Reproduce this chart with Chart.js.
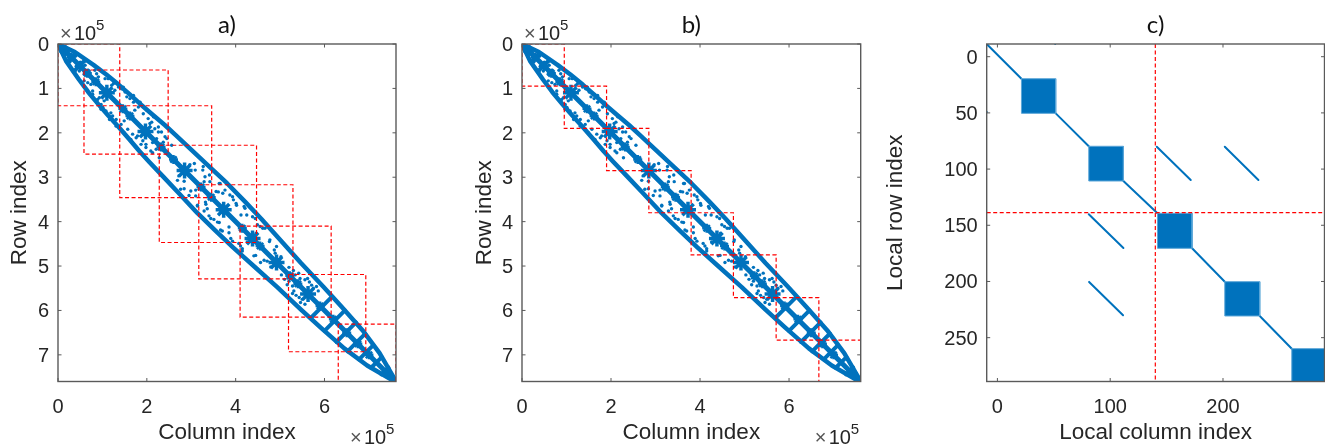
<!DOCTYPE html>
<html>
<head>
<meta charset="utf-8">
<style>
html,body{margin:0;padding:0;background:#fff;}
#wrap{position:relative;width:1325px;height:445px;overflow:hidden;}
canvas{position:absolute;left:0;top:0;}
</style>
<script src="https://cdn.jsdelivr.net/npm/chart.js@4"></script>
</head>
<body>
<div id="wrap">
<canvas id="pa" width="1325" height="445"></canvas>
<canvas id="pb" width="1325" height="445"></canvas>
<canvas id="pc" width="1325" height="445"></canvas>
</div>
<script>
// ---- Sparsity pattern shared by panels a) and b), units of 1e5 (upper half; the matrix is symmetric)
const bandCols=[0,.38,.805,1.08,1.37,1.61,1.85,2.145,2.41,2.65,3.01,3.34,3.805,4.21,4.58,5.015,5.47,5.975,6.385,6.855,7.24,7.60,7.61];
const bandRows=[0,.18,.475,.68,.92,1.13,1.35,1.605,1.83,2.05,2.39,2.70,3.135,3.55,3.94,4.425,4.93,5.465,5.915,6.445,6.96,7.58,7.61];
const centerVals=[0,7.61];
const bigClusters=[1.10,1.97,2.85,3.73,4.38,4.92,5.63];
const smallClusters=[.30,.50,.66,.85,1.46,1.62,2.32,2.60,3.22,3.45,4.15,4.55,5.22,5.40,5.90,6.2,6.5,6.75,7.0];
const dotCols=[.23,.40,.50,.61,.68,.87,1.06,1.21,1.28,1.43,1.51,1.55,1.70,1.81,1.73,1.92,2.03,2.11,2.26,2.33,2.18,2.45,2.37,2.56,2.97,3.09,3.27,3.31,3.42,3.65,3.61,3.76,3.87,3.95,4.02,4.21,4.25,4.44,4.55,4.66,4.77,4.92,4.89,5.34,5.45,5.56,5.71,5.75,
 .83,.91,1.13,1.25,1.36,1.47,1.62,1.70,1.85,2.0,2.15,2.07,2.26,2.41,2.22,3.07,3.26,3.41,3.29,3.63,3.56,3.71,3.93,4.01,4.19,4.12,4.38,4.49,4.61,4.46,4.76,4.87,5.02,5.2,5.3,5.62,5.66,5.82,5.86,5.42];
const dotRows=[.18,.27,.41,.48,.59,.67,.78,.93,1.04,1.01,1.08,1.19,1.31,1.42,1.49,1.57,1.68,1.76,1.87,1.98,1.91,2.13,2.21,2.28,2.72,2.84,2.76,2.99,3.10,3.14,3.33,3.29,3.40,3.51,3.63,3.70,3.85,3.93,4.11,4.15,4.41,4.56,4.71,5.20,5.28,5.31,5.43,5.50,
 .59,.74,.78,.89,.97,.97,1.23,1.16,1.31,1.49,1.64,1.79,1.98,2.09,2.13,2.69,2.84,2.95,3.10,3.14,3.32,3.36,3.44,3.59,3.66,3.85,3.89,4.07,4.15,4.26,4.45,4.64,4.79,5.03,5.1,5.28,5.36,5.46,5.56,5.16];
const linkFromVals=[.12,.30,.48,5.93,6.23,6.49,6.72,6.94,7.17,7.36];
const linkToCols=[.17,.38,.60,6.17,6.46,6.71,6.92,7.10,7.29,7.44];
const linkToRows=[.07,.22,.38,5.69,6.00,6.27,6.52,6.78,7.05,7.28];
// ---- Subdomain squares
const aSquareStart=[0,.585,1.39,2.28,3.17,4.10,5.19,6.31];
const aSquareEnd=[1.39,2.48,3.46,4.47,5.29,6.15,6.93,7.61];
const bSquareEdges=[0,.95,1.90,2.85,3.80,4.75,5.71,6.67,7.61];
// ---- Panel c)
const blockColStart=[21.3,81,141.9,201.6,261];
const blockColEnd=[51.7,111.7,172.6,232.6,290.5];
const blockRowStart=[19.6,79.7,139.3,200.2,259.8];
const blockRowEnd=[50.4,110.6,170.5,230.7,289];
const offColStart=[141.3,201.6,81,81.3];
const offColEnd=[171.4,231.4,111.7,111.4];
const offRowStart=[80.1,80.1,140.2,200.4];
const offRowEnd=[109.7,109.7,170.2,230.1];
const speckCols=[51.2,-9.4];
const speckRows=[-11.3,49.2];
const cSplitCol=140, cSplitRow=138.8;
// ---- Ticks and text
const abXTicks=[0,2,4,6];
const abYTicks=[0,1,2,3,4,5,6,7];
const cXTicks=[0,100,200];
const cYTicks=[0,50,100,150,200,250];

const BLUE='#0072BD', RED='#ff0000', INK='#262626', FRAME='#5a5a5a';
Chart.defaults.animation=false;
Chart.defaults.font.family='"Liberation Sans",Arial,sans-serif';

function xy(c,r){return {x:c,y:r};}
function line(pts,w,extra){return Object.assign({data:pts,borderColor:BLUE,backgroundColor:BLUE,borderWidth:w,pointRadius:0,tension:0,borderCapStyle:'round',borderJoinStyle:'round'},extra||{});}
function marks(pts,style,r,w){return {data:pts,showLine:false,pointStyle:style,pointRadius:r,pointBorderWidth:w,pointBorderColor:BLUE,pointBackgroundColor:BLUE,borderColor:BLUE,backgroundColor:BLUE};}
function redLine(pts){return {data:pts,borderColor:RED,borderWidth:1.2,borderDash:[4,2.5],pointRadius:0,tension:0,order:-1};}

function patternDatasets(){
  const up=bandCols.map((c,i)=>xy(c,bandRows[i]));
  const lo=bandCols.map((c,i)=>xy(bandRows[i],c));
  const ds=[line(up,4.5),line(lo,4.5),line(centerVals.map(v=>xy(v,v)),5)];
  linkFromVals.forEach((v,i)=>{
    ds.push(line([xy(v,v),xy(linkToCols[i],linkToRows[i])],4));
    ds.push(line([xy(v,v),xy(linkToRows[i],linkToCols[i])],4));
  });
  ds.push(marks(bigClusters.map(v=>xy(v,v)),'star',8,3.5));
  ds.push(marks(smallClusters.map(v=>xy(v,v)),'star',4.5,2.5));
  const dots=[];
  dotCols.forEach((c,i)=>{dots.push(xy(c,dotRows[i]));dots.push(xy(dotRows[i],c));});
  ds.push(marks(dots,'circle',1.7,0));
  return ds;
}
function square(a,b){return [xy(a,a),xy(b,a),xy(b,b),xy(a,b),xy(a,a)];}

function panel(id,cfg){
  const p={
    id:'frame'+id,
    afterDatasetsDraw(ch){
      const g=ch.ctx,A=ch.chartArea,sx=ch.scales.x,sy=ch.scales.y;
      g.save();
      g.strokeStyle=FRAME;g.lineWidth=1.4;
      g.strokeRect(A.left,A.top,A.right-A.left,A.bottom-A.top);
      g.lineWidth=1;g.beginPath();
      sx.ticks.forEach(t=>{const X=sx.getPixelForValue(t.value);g.moveTo(X,A.top);g.lineTo(X,A.top+3.5);g.moveTo(X,A.bottom);g.lineTo(X,A.bottom-3.5);});
      sy.ticks.forEach(t=>{const Y=sy.getPixelForValue(t.value);g.moveTo(A.left,Y);g.lineTo(A.left+3.5,Y);g.moveTo(A.right,Y);g.lineTo(A.right-3.5,Y);});
      g.stroke();
      if(cfg.exponent){
        g.fillStyle=INK;g.textBaseline='alphabetic';g.textAlign='left';
        const tag=(x,base)=>{
          g.font='20px "Liberation Sans"';
          g.fillStyle='#555';g.fillText('\u00D7',x,base);
          g.fillStyle=INK;g.fillText('10',x+14,base);
          g.font='15px "Liberation Sans"';g.fillText('5',x+36,base-10);
        };
        tag(A.left+2,40);
        tag(A.right-46,444);
      }
      g.restore();
    }
  };
  const xT=cfg.xTicks,yT=cfg.yTicks;
  new Chart(document.getElementById(id),{
    type:'line',
    data:{datasets:cfg.datasets},
    options:{
      responsive:false,animation:false,
      layout:{autoPadding:false,padding:{left:cfg.scaleLeft,right:1325-cfg.right,top:0,bottom:0}},
      plugins:{
        legend:{display:false},tooltip:{enabled:false},
        title:{display:true,text:cfg.title,fullSize:false,color:'#111',
          font:{family:'Lato',size:24,weight:'normal',lineHeight:1.2},
          padding:{top:11,bottom:4.2}}
      },
      scales:{
        x:{type:'linear',min:cfg.xMin,max:cfg.xMax,
          grid:{display:false,drawTicks:false},border:{display:false},
          afterBuildTicks(s){s.ticks=xT.map(v=>({value:v}));},
          afterFit(s){s.height=445-381.5;},
          ticks:{color:INK,font:{size:20},padding:14,autoSkip:false,maxRotation:0,callback:v=>String(v)},
          title:{display:true,text:cfg.xLabel,color:INK,font:{size:22.5,lineHeight:1.1},padding:{top:0,bottom:0}}},
        y:{type:'linear',reverse:true,min:cfg.yMin,max:cfg.yMax,
          grid:{display:false,drawTicks:false},border:{display:false},
          afterBuildTicks(s){s.ticks=yT.map(v=>({value:v}));},
          afterFit(s){s.width=cfg.left-cfg.scaleLeft;},
          ticks:{color:INK,font:{size:20},padding:9,labelOffset:1.5,autoSkip:false,callback:v=>String(v)},
          title:{display:true,text:cfg.yLabel,color:INK,font:{size:22.5,lineHeight:1.1},padding:{top:0,bottom:0}}}
      }
    },
    plugins:[p]
  });
}

// a)
const aDatasets=patternDatasets();
aSquareStart.forEach((s,i)=>aDatasets.push(redLine(square(s,aSquareEnd[i]))));
panel('pa',{title:'a)',left:58,right:396,scaleLeft:7,xMin:0,xMax:7.61,yMin:0,yMax:7.6,xTicks:abXTicks,yTicks:abYTicks,xLabel:'Column index',yLabel:'Row index',exponent:true,datasets:aDatasets});

// b)
const bDatasets=patternDatasets();
bSquareEdges.slice(0,-1).forEach((s,i)=>bDatasets.push(redLine(square(s,bSquareEdges[i+1]))));
panel('pb',{title:'b)',left:522,right:860.7,scaleLeft:472,xMin:0,xMax:7.61,yMin:0,yMax:7.6,xTicks:abXTicks,yTicks:abYTicks,xLabel:'Column index',yLabel:'Row index',exponent:true,datasets:bDatasets});

// c)
const cDatasets=[];
blockColStart.forEach((c,i)=>{
  const c2=blockColEnd[i],r=blockRowStart[i],r2=blockRowEnd[i];
  cDatasets.push(line([xy(c,r),xy(c2,r),xy(c2,r2),xy(c,r2),xy(c,r)],1,{fill:'shape',borderColor:'#5aa6d8',backgroundColor:BLUE}));
  const fromC=i?blockColEnd[i-1]:-9.5, fromR=i?blockRowEnd[i-1]:-11.3;
  cDatasets.push(line([xy(fromC,fromR),xy(c,r)],2));
});
offColStart.forEach((c,i)=>cDatasets.push(line([xy(c,offRowStart[i]),xy(offColEnd[i],offRowEnd[i])],2)));
cDatasets.push(marks(speckCols.map((c,i)=>xy(c,speckRows[i])),'circle',1,0));
cDatasets.push(redLine([xy(cSplitCol,-11.3),xy(cSplitCol,289)]));
cDatasets.push(redLine([xy(-9.5,cSplitRow),xy(290.5,cSplitRow)]));
panel('pc',{title:'c)',left:986.7,right:1324.5,scaleLeft:883,xMin:-9.5,xMax:290,yMin:-11.3,yMax:289,xTicks:cXTicks,yTicks:cYTicks,xLabel:'Local column index',yLabel:'Local row index',exponent:false,datasets:cDatasets});
</script>
</body>
</html>
